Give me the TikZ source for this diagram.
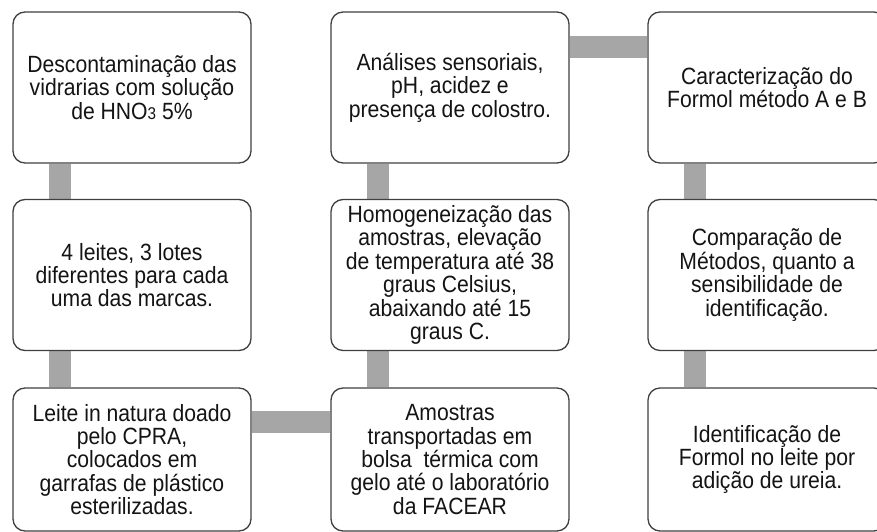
\documentclass[tikz,border=0pt]{standalone}
\usepackage{fontspec}
\setmainfont{Liberation Sans}[FakeStretch=0.9]
\usetikzlibrary{backgrounds}
\definecolor{barcolor}{HTML}{A6A6A6}
\definecolor{edgecolor}{HTML}{404040}
\tikzset{stage/.style={draw=edgecolor, line width=1.3pt, fill=white, rounded corners=12pt,
    minimum width=238pt, minimum height=151pt, align=center, inner sep=0pt,
    font=\fontsize{23.5}{23.4}\selectfont, text=black!92}}
\tikzset{bar/.style={draw=barcolor, line width=22pt}}

\begin{document}
\begin{tikzpicture}[x=1pt, y=-1pt]
      \useasboundingbox (0,0) rectangle (877,532);
      \node[stage] (A) at (132, 87.5) {Descontaminação das\\vidrarias com solução\\de HNO{\fontsize{17}{17}\selectfont 3} 5\%};
      \node[stage] (B) at (132, 275) {4 leites, 3 lotes\\diferentes para cada\\uma das marcas.};
      \node[stage, minimum height=143pt] (C) at (132, 459.5) {Leite in natura doado\\pelo CPRA,\\colocados em\\garrafas de plástico\\esterilizadas.};
      \node[stage, minimum height=143pt] (D) at (450, 459.5) {Amostras\\transportadas em\\bolsa\ \ térmica com\\gelo até o laboratório\\da FACEAR};
      \node[stage] (E) at (450, 275) {Homogeneização das\\amostras, elevação\\de temperatura até 38\\graus Celsius,\\abaixando até 15\\graus C.};
      \node[stage] (F) at (450, 87.5) {Análises sensoriais,\\pH, acidez e\\presença de colostro.};
      \node[stage] (G) at (767, 87.5) {Caracterização do\\Formol método A e B};
      \node[stage] (H) at (767, 275) {Comparação de\\Métodos, quanto a\\sensibilidade de\\identificação.};
      \node[stage, minimum height=143pt] (I) at (767, 459.5) {Identificação de\\Formol no leite por\\adição de ureia.};
      \begin{scope}[on background layer]
        \draw[bar] ([xshift=48pt]A.south west) -- ([xshift=48pt]B.north west);
        \draw[bar] ([xshift=48pt]B.south west) -- ([xshift=48pt]C.north west);
        \draw[bar] ([yshift=-35pt]C.north east) -- ([yshift=-35pt]D.north west);
        \draw[bar] ([xshift=48pt]D.north west) -- ([xshift=48pt]E.south west);
        \draw[bar] ([xshift=48pt]E.north west) -- ([xshift=48pt]F.south west);
        \draw[bar] ([yshift=-36pt]F.north east) -- ([yshift=-36pt]G.north west);
        \draw[bar] ([xshift=48pt]G.south west) -- ([xshift=48pt]H.north west);
        \draw[bar] ([xshift=48pt]H.south west) -- ([xshift=48pt]I.north west);
      \end{scope}
    \end{tikzpicture}
\end{document}
